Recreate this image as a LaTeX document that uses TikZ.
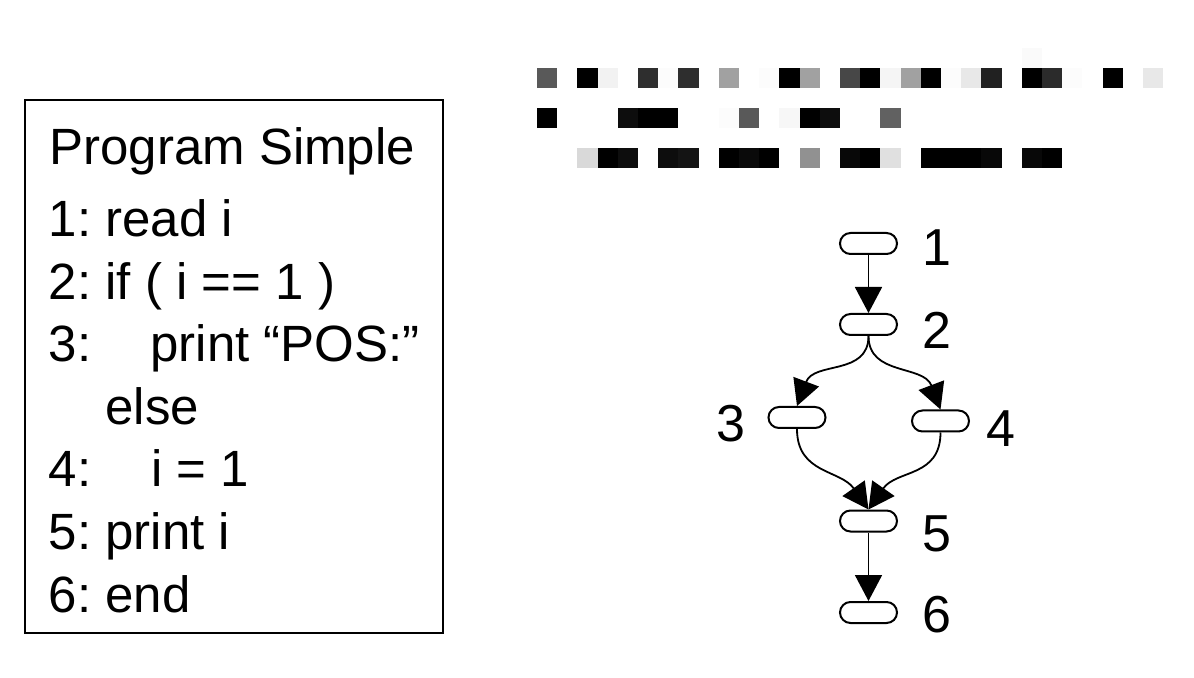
\documentclass[tikz,border=0pt]{standalone}
\usepackage{fontspec}
\setmainfont{Liberation Sans}
\usetikzlibrary{arrows.meta, positioning}
\frenchspacing

\begin{document}
\begin{tikzpicture}[x=0.5pt,y=-0.5pt,
					every node/.style = {inner sep=0pt, font=\fontsize{25.5}{30}\selectfont},
					node distance = 12pt]

\tikzstyle{code_line} = [anchor=base west]
\tikzstyle{stmt} = [draw, line width=1pt, rounded corners=5.25pt, minimum width=28.5pt, minimum height=10.5pt]
\tikzstyle{stmt_label} = [font=\fontsize{26}{30}\selectfont]
\tikzstyle{flow} = [line width=0.9pt, -{Triangle[length=13pt,width=13.5pt]}]

\useasboundingbox (0,0) rectangle (1194,678);

% listing
\draw[line width=0.9pt] (24.7,100) rectangle (443,633);
\foreach \x/\y/\t [count=\k] in {49/165/Program Simple, 48.5/237/1: read i, 48.5/299.5/2: if ( i == 1 ),
		48.5/362/3:, 150/362/print “POS:”, 105/424.5/else, 48.5/487/4:, 151/487/i = 1,
		48.5/549.5/5: print i, 48.5/612/6: end}
	\node[code_line] (line\k) at (\x,\y) {\t};

% blurred caption
\foreach \i/\g in {0/65, 2/100, 3/5, 5/82, 6/1, 7/82, 9/37, 11/1, 12/100, 13/37, 15/72, 16/100,
		17/4, 18/37, 19/100, 20/1, 21/9, 22/87, 24/100, 25/83, 26/1, 28/100, 30/9}
	\fill[black!\g] ({537+20.2*\i},68) rectangle +(20.2,20);
\fill[black!2] ({537+20.2*24},48) rectangle +(20.2,20);
\foreach \i/\g in {0/100, 4/95, 5/100, 6/100, 9/1, 10/65, 12/3, 13/100, 14/95, 17/62}
	\fill[black!\g] ({537+20.2*\i},108) rectangle +(20.2,20);
\foreach \i/\g in {2/15, 3/100, 4/95, 6/95, 7/92, 9/100, 10/96, 11/100, 13/43, 15/97, 16/100,
		17/12, 19/100, 20/100, 21/100, 22/97, 24/97, 25/100}
	\fill[black!\g] ({537+20.2*\i},148) rectangle +(20.2,20);

% control flow graph
\node[stmt] (n1) at (868.5,243.5) {};
\node[stmt] (n2) at (868.5,324.5) {};
\node[stmt] (n3) at (797,417.5) {};
\node[stmt] (n4) at (940.5,421) {};
\node[stmt] (n5) at (868.5,521) {};
\node[stmt] (n6) at (868.5,612.5) {};

\node[stmt_label, right=of n1, yshift=-2pt] (t1) {1};
\node[stmt_label, right=of n2, yshift=-2.75pt] (t2) {2};
\node[stmt_label, left=11pt of n3, yshift=-3.25pt] (t3) {3};
\node[stmt_label, right=8pt of n4, yshift=-3.75pt] (t4) {4};
\node[stmt_label, right=of n5, yshift=-6.5pt] (t5) {5};
\node[stmt_label, right=of n6, yshift=-1.25pt] (t6) {6};

\draw[flow] (n1) -- (n2);
\draw[flow] (n2.south) .. controls +(0,40) and +(17,-45) .. (n3.north);
\draw[flow] (n2.south) .. controls +(0,40) and +(-17,-45) .. (n4.north);
\draw[flow] (n3.south) .. controls +(0,45) and +(-28,-40) .. (n5.north);
\draw[flow] (n4.south) .. controls +(0,45) and +(28,-40) .. (n5.north);
\draw[flow] (n5) -- (n6);
\end{tikzpicture}
\end{document}
